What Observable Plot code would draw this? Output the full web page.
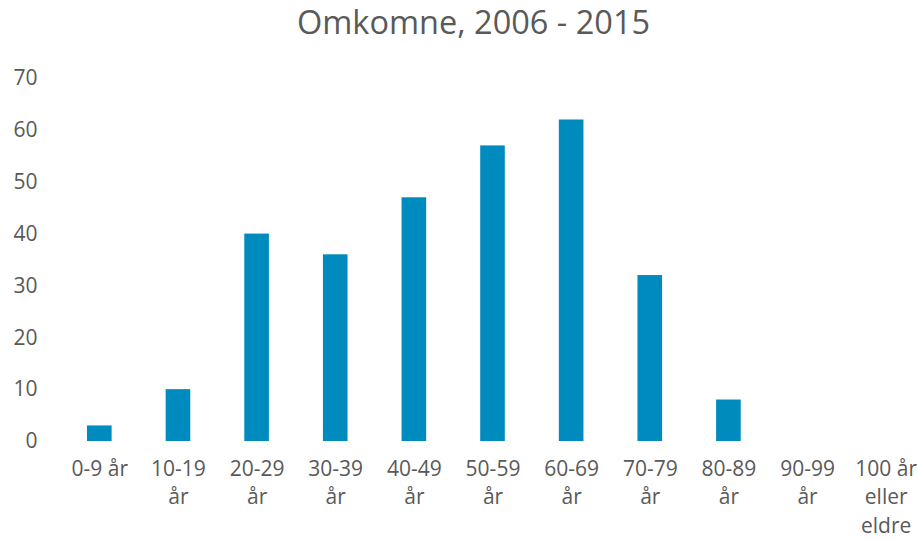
<!DOCTYPE html>
<html>
<head>
<meta charset="utf-8">
<script src="https://cdn.jsdelivr.net/npm/d3@7"></script>
<script src="https://cdn.jsdelivr.net/npm/@observablehq/plot@0.6"></script>
<style>
  body { margin: 0; background: #fff; font-family: "Open Sans", sans-serif; }
  #title { height: 50px; line-height: 44px; text-align: center; font-size: 32.5px; color: #595959; padding-left: 29px; }
</style>
</head>
<body>
<div id="title">Omkomne, 2006 - 2015</div>
<div id="chart"></div>
<script>
const categories = ["0-9 år", "10-19 år", "20-29 år", "30-39 år", "40-49 år", "50-59 år", "60-69 år", "70-79 år", "80-89 år", "90-99 år", "100 år eller eldre"];
const tickLabels = ["0-9 år", "10-19\når", "20-29\når", "30-39\når", "40-49\når", "50-59\når", "60-69\når", "70-79\når", "80-89\når", "90-99\når", "100 år\neller\neldre"];
const values = [3, 10, 40, 36, 47, 57, 62, 32, 8, 0, 0];
const yTicks = [0, 10, 20, 30, 40, 50, 60, 70];

const data = categories.map((c, i) => ({category: c, value: values[i]}));
const labelOf = new Map(categories.map((c, i) => [c, tickLabels[i]]));

const chart = Plot.plot({
  width: 918,
  height: 491,
  marginLeft: 60,
  marginRight: 0,
  marginTop: 28,
  marginBottom: 100,
  style: {fontFamily: "Open Sans, sans-serif", fontSize: "21px", color: "#595959", background: "#fff"},
  x: {domain: categories, range: [60, 925], round: false, paddingInner: 0.687, paddingOuter: 0.3435, label: null},
  y: {domain: [0, 70], label: null},
  marks: [
    Plot.barY(data, {x: "category", y: "value", fill: "#008BBF"}),
    Plot.ruleY([0], {x1: 60, x2: 918, stroke: "#d9d9d9", strokeWidth: 2}),
    Plot.axisY({ticks: yTicks, tickSize: 0, tickPadding: 23, label: null, fontSize: 21, fill: "#595959"}),
    Plot.axisX({tickSize: 0, tickPadding: 14, label: null, fontSize: 21, fill: "#595959", lineHeight: 1.36, tickFormat: d => labelOf.get(d)})
  ]
});
document.getElementById("chart").appendChild(chart);
</script>
</body>
</html>
